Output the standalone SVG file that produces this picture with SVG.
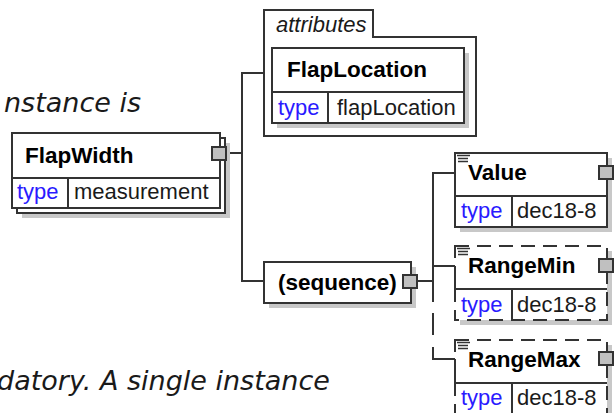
<svg xmlns="http://www.w3.org/2000/svg" width="614" height="413" viewBox="0 0 614 413">
<style>
.bg{fill:#ffffff}
.box{fill:#ffffff;stroke:#333333;stroke-width:2}
.dbox{fill:#ffffff;stroke:#333333;stroke-width:2;stroke-dasharray:14 8}
.ln{fill:none;stroke:#333333;stroke-width:2}
.sh{fill:#c8c8c8}
.port{fill:#c0c0c0;stroke:#333333;stroke-width:2}
.note{fill:none;stroke:#333333;stroke-width:1.3}
.name{font-family:"Liberation Sans",Arial,sans-serif;font-weight:bold;font-size:22.5px;fill:#000000}
.tk{font-family:"Liberation Sans",Arial,sans-serif;font-size:22px;fill:#2a1aff}
.tv{font-family:"Liberation Sans",Arial,sans-serif;font-size:22px;fill:#1a1a1a}
.lbl{font-family:"Liberation Sans",Arial,sans-serif;font-style:italic;font-size:22px;fill:#1a1a1a}
.doc{font-family:"DejaVu Sans",Verdana,sans-serif;font-style:oblique;font-size:27px;fill:#1a1a1a}
</style>
<rect class="bg" x="0" y="0" width="614" height="413"/>
<text class="doc" x="4" y="112">nstance is</text>
<text class="doc" x="-3" y="390">datory. A single instance</text>

<g id="connectors">
<path class="ln" d="M226 153 H242 M264 73 H242 V281 H264"/>
<path class="ln" d="M417 281 H433 M455 173 H433 V302 M433 313 V335 M433 347 V359 H455 M433 266 H455"/>
</g>

<g id="FlapWidth">
<rect class="sh" x="22" y="143" width="208" height="75"/>
<rect class="box" x="17" y="138" width="208" height="75"/>
<rect class="box" x="12" y="133" width="208" height="75"/>
<path class="ln" d="M12 178 H220 M68 178 V208"/>
<text class="name" x="25" y="163">FlapWidth</text>
<text class="tk" x="17" y="199">type</text>
<text class="tv" x="74" y="199">measurement</text>
<rect class="port" x="212" y="147" width="14" height="13"/>
</g>

<g id="attributes">
<path class="box" d="M264 136 V10 H373 V37 H476 V136 Z"/>
<text class="lbl" x="276" y="32">attributes</text>
</g>

<g id="FlapLocation">
<rect class="sh" x="277" y="53" width="192" height="75"/>
<rect class="box" x="272" y="48" width="192" height="75"/>
<path class="ln" d="M272 92 H464 M328 92 V123"/>
<text class="name" x="287" y="77">FlapLocation</text>
<text class="tk" x="278" y="115">type</text>
<text class="tv" x="337" y="115">flapLocation</text>
</g>

<g id="sequence">
<rect class="sh" x="269" y="267" width="147" height="41"/>
<rect class="box" x="264" y="262" width="147" height="41"/>
<text class="name" x="278" y="290">(sequence)</text>
<rect class="port" x="403" y="275" width="14" height="13"/>
</g>

<g id="Value">
<rect class="sh" x="460" y="158" width="152" height="74"/>
<rect class="box" x="455" y="153" width="152" height="74"/>
<path class="ln" d="M455 196 H607 M512 196 V227"/>
<path class="note" d="M457 155.5 H470 M458 158.5 H468 M458 161.5 H468"/>
<text class="name" x="468" y="180">Value</text>
<text class="tk" x="461" y="218">type</text>
<text class="tv" x="517" y="218">dec18-8</text>
<rect class="port" x="599" y="166" width="14" height="13"/>
</g>

<g id="RangeMin">
<rect class="sh" x="460" y="251" width="152" height="74"/>
<rect class="dbox" x="455" y="246" width="152" height="74"/>
<path class="ln" d="M455 266 V289 H607 M512 289 V320"/>
<path class="note" d="M457 248.5 H470 M458 251.5 H468 M458 254.5 H468"/>
<text class="name" x="468" y="273">RangeMin</text>
<text class="tk" x="461" y="312">type</text>
<text class="tv" x="517" y="312">dec18-8</text>
<rect class="port" x="599" y="259" width="14" height="13"/>
</g>

<g id="RangeMax">
<rect class="sh" x="460" y="345" width="152" height="74"/>
<rect class="dbox" x="455" y="340" width="152" height="74"/>
<path class="ln" d="M455 359 V383 H607 M512 383 V414"/>
<path class="note" d="M457 342.5 H470 M458 345.5 H468 M458 348.5 H468"/>
<text class="name" x="468" y="367">RangeMax</text>
<text class="tk" x="461" y="405">type</text>
<text class="tv" x="517" y="405">dec18-8</text>
<rect class="port" x="599" y="352" width="14" height="13"/>
</g>
</svg>
